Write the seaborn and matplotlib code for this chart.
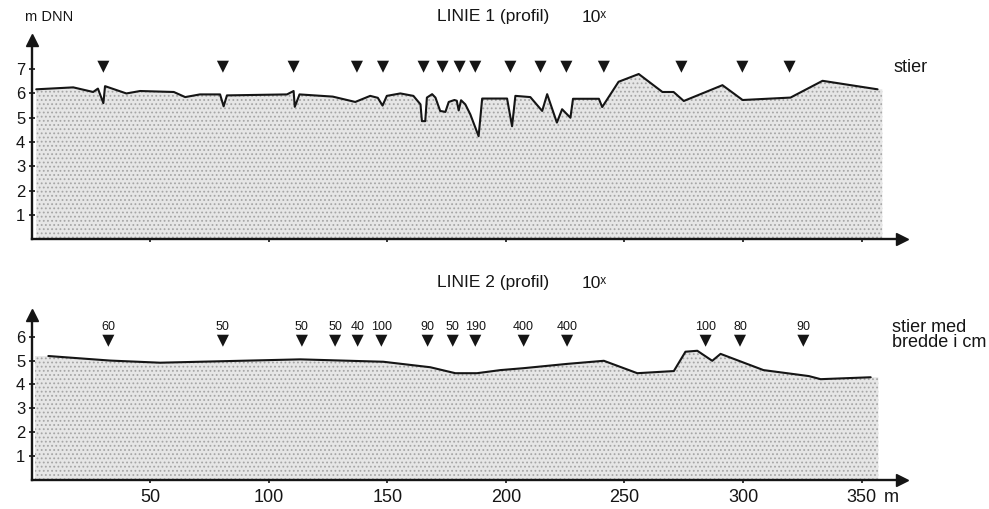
import numpy as np
import pandas as pd
import matplotlib
matplotlib.use("Agg")
import matplotlib.pyplot as plt
import seaborn as sns

# LINIE 1 - terrain profile (distance in m, height in m DNN)
dist1 = [2, 17.6, 26, 28, 30.3, 31, 40, 45.8, 60, 64.8, 71, 79.5, 81, 82.4,
         107.7, 110.5, 111, 113, 127, 136.5, 142.8, 146, 148, 149.8, 155.5,
         161, 164, 164.6, 166, 166.7, 168.9, 170.3, 172.3, 174.5, 175.9,
         178.3, 179.3, 180.1, 181.1, 182.9, 185, 188.5, 190, 200.5, 202.6,
         204, 210.3, 215.3, 217.4, 221.5, 223.7, 227.2, 228.3, 239.2, 240.6,
         247.5, 256, 266, 270.7, 275, 291.3, 299.8, 320, 333.5, 356.7]
height1 = [6.17, 6.25, 6.06, 6.2, 5.6, 6.3, 6.0, 6.1, 6.06, 5.85, 5.96, 5.96,
           5.47, 5.92, 5.96, 6.1, 5.45, 5.96, 5.87, 5.65, 5.9, 5.82, 5.5, 5.9,
           6.0, 5.9, 5.55, 4.86, 4.86, 5.83, 5.97, 5.83, 5.28, 5.24, 5.65,
           5.73, 5.7, 5.3, 5.72, 5.55, 5.14, 4.24, 5.79, 5.79, 4.65, 5.9, 5.85,
           5.28, 5.97, 4.8, 5.35, 5.0, 5.78, 5.78, 5.44, 6.48, 6.8, 6.06, 6.06,
           5.69, 6.34, 5.73, 5.83, 6.52, 6.17]
paths1 = [30.3, 80.7, 110.5, 137.2, 148.2, 165.3, 173.3, 180.5, 187.1, 201.9,
          214.6, 225.5, 241.3, 274, 299.7, 319.6]

# LINIE 2 - terrain profile
dist2 = [7.1, 33, 54.2, 113.3, 148.3, 168.1, 178.7, 187.8, 197.7, 207.4,
         225.8, 241.3, 255.4, 270.8, 275.7, 280.7, 287, 290.5, 299, 308.6,
         327.7, 332.7, 353.8]
height2 = [5.19, 5.0, 4.91, 5.05, 4.95, 4.72, 4.47, 4.47, 4.6, 4.68, 4.86,
           4.99, 4.47, 4.56, 5.37, 5.41, 4.99, 5.28, 4.96, 4.6, 4.35, 4.22, 4.3]
paths2 = [32.4, 80.7, 114, 128, 137.5, 147.5, 167, 177.6, 187.1, 207.5, 225.8,
          284.2, 298.7, 325.4]
widths2 = ["60", "50", "50", "50", "40", "100", "90", "50", "190", "400",
           "400", "100", "80", "90"]

xticks = [50, 100, 150, 200, 250, 300, 350]

sns.set_theme(style="ticks")
plt.rcParams["font.family"] = ["Liberation Sans", "DejaVu Sans"]
plt.rcParams["hatch.linewidth"] = 0.8

W, H = 989, 509
fig = plt.figure(figsize=(W / 100, H / 100), dpi=100)
INK = "#151515"


def fpos(px, py):
    return px / W, 1 - py / H


ax1 = fig.add_axes([31.5 / W, 1 - 239.2 / H, 870.5 / W, 199.2 / H])
ax2 = fig.add_axes([31.5 / W, 1 - 479.9 / H, 870.5 / W, 164.7 / H])


def draw_profile(ax, dist, height, fill_start, fill_end, ymax, yticks):
    df = pd.DataFrame({"dist": dist, "height": height})
    fx = np.concatenate([[fill_start], df["dist"], [fill_end]])
    fy = np.concatenate([[df["height"].iloc[0]], df["height"], [df["height"].iloc[-1]]])
    ax.fill_between(fx, 0, fy, facecolor="#e6e6e6", edgecolor="#a6a6a6",
                    hatch="....", linewidth=0, zorder=1)
    sns.lineplot(data=df, x="dist", y="height", ax=ax, color=INK,
                 lw=1.5, sort=False, estimator=None, zorder=3)
    ax.set_xlim(0, 367)
    ax.set_ylim(0, ymax)
    ax.set_xlabel("")
    ax.set_ylabel("")
    for s in ["top", "right"]:
        ax.spines[s].set_visible(False)
    for s in ["left", "bottom"]:
        ax.spines[s].set_linewidth(1.7)
        ax.spines[s].set_color(INK)
    ax.set_yticks(yticks)
    ax.set_xticks(xticks)
    ax.tick_params(axis="both", direction="inout", length=5, width=1.2,
                   colors=INK)
    ax.tick_params(axis="y", labelsize=12, pad=2)
    ax.plot(1, 0, ">", color=INK, ms=8, transform=ax.transAxes, clip_on=False)
    ax.plot(0, 1, "^", color=INK, ms=8, transform=ax.transAxes, clip_on=False)
    ax.patch.set_alpha(0)


draw_profile(ax1, dist1, height1, 2, 358.7, 8.2, [1, 2, 3, 4, 5, 6, 7])
ax1.tick_params(axis="x", labelbottom=False)
sns.scatterplot(x=paths1, y=[7.1] * len(paths1), ax=ax1, marker="v", s=75,
                color=INK, edgecolor="none", zorder=4)

draw_profile(ax2, dist2, height2, 1.5, 357, 6.9, [1, 2, 3, 4, 5, 6])
ax2.tick_params(axis="x", labelsize=13, pad=4)
sns.scatterplot(x=paths2, y=[5.83] * len(paths2), ax=ax2, marker="v", s=75,
                color=INK, edgecolor="none", zorder=4)
for x, lab in zip(paths2, widths2):
    ax2.text(x, 6.4, lab, ha="center", va="center", fontsize=9, color=INK)

# annotations
fig.text(*fpos(25, 17), "m DNN", ha="left", va="center", fontsize=10.5, color=INK)
fig.text(*fpos(437, 17), "LINIE 1 (profil)", ha="left", va="center", fontsize=12.5, color=INK)
fig.text(*fpos(582, 17), "10ˣ", ha="left", va="center", fontsize=12.5, color=INK)
fig.text(*fpos(893, 68), "stier", ha="left", va="center", fontsize=13, color=INK)

fig.text(*fpos(437, 283), "LINIE 2 (profil)", ha="left", va="center", fontsize=12.5, color=INK)
fig.text(*fpos(582, 283), "10ˣ", ha="left", va="center", fontsize=12.5, color=INK)
fig.text(*fpos(892, 335), "stier med\nbredde i cm", ha="left", va="center",
         fontsize=13, linespacing=0.9, color=INK)
fig.text(*fpos(884, 497), "m", ha="left", va="center", fontsize=13, color=INK)

fig.savefig("out.png", dpi=100)
